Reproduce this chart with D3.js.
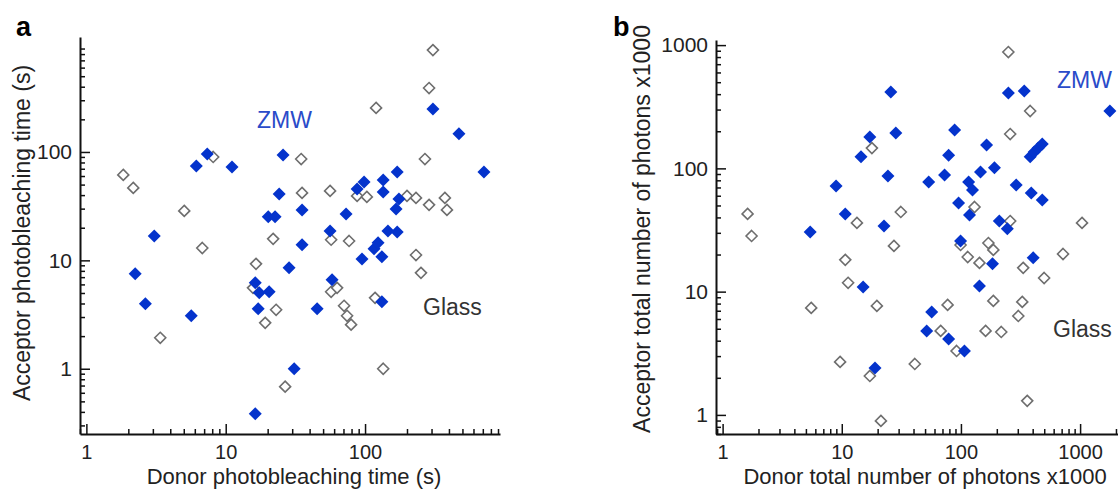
<!DOCTYPE html>
<html>
<head>
<meta charset="utf-8">
<script src="https://cdn.jsdelivr.net/npm/d3@7"></script>
<style>
  body { margin: 0; background: #fff; }
  svg { font-family: "Liberation Sans", Arial, sans-serif; }
</style>
</head>
<body>
<div id="chart"></div>
<script>
// panel a: photobleaching times (s), [donor, acceptor]
const glassA = [
  [1.84, 61.4], [2.17, 46.6], [5.04, 28.6], [6.79, 13.0], [8.13, 89.9], [3.39, 1.93],
  [16.5, 9.29], [15.7, 5.58], [19.2, 2.65], [23.0, 3.50], [26.7, 0.683], [21.9, 15.8],
  [34.8, 86.1], [35.3, 41.9], [56.1, 43.7], [57.1, 15.5], [76.8, 15.1], [57.1, 5.13],
  [63.0, 5.58], [70.7, 3.81], [74.3, 3.08], [79.4, 2.55], [87.7, 39.3], [103, 38.5],
  [118, 4.51], [120, 255], [135, 1.0], [200, 39.3], [232, 37.7], [232, 11.2],
  [252, 7.67], [269, 86.1], [288, 32.5], [288, 389], [307, 871], [374, 37.7], [387, 29.2]
]
const zmwA = [
  [3.07, 16.8], [2.24, 7.51], [2.65, 3.97], [5.66, 3.08], [6.15, 74.3], [7.37, 95.9],
  [11.1, 72.7], [16.3, 0.385], [16.3, 6.21], [17.4, 5.02], [20.5, 5.13], [17.1, 3.57],
  [20.2, 25.2], [22.6, 25.2], [24.2, 41.0], [25.8, 93.8], [28.5, 8.53], [31.0, 1.0],
  [35.3, 29.2], [35.3, 13.9], [45.3, 3.57], [56.1, 18.7], [58.0, 6.61], [73.1, 26.8],
  [87.7, 45.6], [98.4, 52.9], [95.1, 10.3], [116, 12.8], [124, 14.5], [132, 10.8],
  [132, 4.15], [135, 55.2], [135, 42.8], [146, 18.7], [170, 18.3], [167, 29.8],
  [170, 65.4], [175, 36.9], [307, 249], [472, 147], [713, 65.4]
]

// panel b: total photons x1000, [donor, acceptor]
const glassB = [
  [1.62, 42.7], [1.75, 28.3], [13.4, 36.1], [10.7, 18.1], [11.3, 11.8], [5.54, 7.38],
  [9.68, 2.69], [250, 879], [381, 292], [17.9, 146], [259, 190], [130, 48.6],
  [31.3, 44.3], [259, 37.4], [1038, 36.1], [27.4, 23.5], [99.3, 23.9], [170, 24.8],
  [187, 21.8], [114, 19.1], [143, 17.1], [719, 20.2], [333, 15.6], [499, 12.9],
  [19.7, 7.66], [77.3, 7.80], [187, 8.41], [327, 8.25], [303, 6.35], [67.6, 4.80],
  [161, 4.80], [218, 4.71], [91.9, 3.30], [41.0, 2.59], [17.2, 2.07], [360, 1.30], [21.3, 0.894]
]
const zmwB = [
  [14.5, 124], [8.96, 72.0], [10.7, 42.7], [5.43, 30.5], [15.1, 10.9], [25.8, 417],
  [250, 409], [340, 424], [1778, 292], [28.4, 194], [88.5, 205], [17.2, 180],
  [164, 155], [381, 124], [412, 136], [445, 146], [481, 158], [78.8, 128],
  [24.4, 86.7], [53.6, 77.6], [72.9, 88.4], [116, 77.6], [125, 66.8], [146, 93.5],
  [191, 101], [291, 73.3], [389, 63.1], [481, 55.4], [95.5, 52.4], [118, 41.9],
  [22.6, 34.1], [210, 37.4], [245, 32.3], [99.3, 25.8], [184, 16.8], [404, 18.8],
  [143, 11.1], [56.8, 6.84], [51.6, 4.80], [78.8, 4.13], [107, 3.30], [19.0, 2.40]
]

// labelled tick values
const aXTicks = [1, 10, 100]
const aYTicks = [1, 10, 100]
const bXTicks = [1, 10, 100, 1000]
const bYTicks = [1, 10, 100, 1000]

;(function () {
  const width = 1118
  const height = 489
  const blue = "#0433cc"
  const gray = "#6e6e6e"

  const svg = d3.select("#chart")
    .append("svg")
    .attr("width", width)
    .attr("height", height)

  const diamond = r => `M0,${-r}L${r},0L0,${r}L${-r},0Z`

  function drawPanel(p) {
    const x = d3.scaleLog().domain(p.xDomain).range([p.left, p.right])
    const y = d3.scaleLog().domain(p.yDomain).range([p.bottom, p.top])

    const isMajor = v => Math.abs(Math.log10(v) - Math.round(Math.log10(v))) < 1e-9
    const xMinor = x.ticks().filter(v => !isMajor(v))
    const yMinor = y.ticks().filter(v => !isMajor(v))

    // minor ticks
    svg.append("g")
      .attr("class", "axis")
      .attr("transform", `translate(0,${p.bottom})`)
      .call(d3.axisBottom(x).tickValues(xMinor).tickSize(-5).tickSizeOuter(0).tickFormat(""))
      .call(g => g.select(".domain").remove())
    svg.append("g")
      .attr("class", "axis")
      .attr("transform", `translate(${p.left},0)`)
      .call(d3.axisLeft(y).tickValues(yMinor).tickSize(-5).tickSizeOuter(0).tickFormat(""))
      .call(g => g.select(".domain").remove())

    // major ticks + labels
    svg.append("g")
      .attr("class", "axis xmajor")
      .attr("transform", `translate(0,${p.bottom})`)
      .call(d3.axisBottom(x).tickValues(p.xTicks).tickSize(-10).tickSizeOuter(0)
        .tickPadding(11).tickFormat(d3.format("d")))
    svg.append("g")
      .attr("class", "axis ymajor")
      .attr("transform", `translate(${p.left},0)`)
      .call(d3.axisLeft(y).tickValues(p.yTicks).tickSize(-10).tickSizeOuter(0)
        .tickPadding(8).tickFormat(d3.format("d")))

    svg.selectAll(".axis .domain").attr("stroke", "#111").attr("stroke-width", 2)
    svg.selectAll(".axis .tick line").attr("stroke", "#111").attr("stroke-width", 1.5)
    svg.selectAll(".axis text")
      .attr("fill", "#222")
      .style("font-family", "'Liberation Sans', Arial, sans-serif")
    svg.selectAll(".xmajor text").style("font-size", "20px")
    svg.selectAll(".ymajor text").style("font-size", "21px")

    // glass (open) then ZMW (filled)
    svg.append("g")
      .selectAll("path")
      .data(p.glass)
      .join("path")
      .attr("d", diamond(5.5))
      .attr("transform", d => `translate(${x(d[0])},${y(d[1])})`)
      .attr("fill", "#fff")
      .attr("stroke", gray)
      .attr("stroke-width", 1.6)

    svg.append("g")
      .selectAll("path")
      .data(p.zmw)
      .join("path")
      .attr("d", diamond(6.5))
      .attr("transform", d => `translate(${x(d[0])},${y(d[1])})`)
      .attr("fill", blue)

    // axis titles
    svg.append("text")
      .attr("x", p.xTitle[0])
      .attr("y", p.xTitle[1])
      .attr("text-anchor", "middle")
      .style("font-size", "22px")
      .attr("fill", "#222")
      .text(p.xLabel)
    svg.append("text")
      .attr("transform", `translate(${p.yTitle[0]},${p.yTitle[1]}) rotate(-90)`)
      .attr("text-anchor", "middle")
      .style("font-size", "23px")
      .attr("fill", "#222")
      .text(p.yLabel)

    // panel letter
    svg.append("text")
      .attr("x", p.letterPos[0])
      .attr("y", p.letterPos[1])
      .style("font-size", "27px")
      .style("font-weight", "bold")
      .text(p.letter)

    // series labels
    svg.append("text")
      .attr("x", p.zmwPos[0])
      .attr("y", p.zmwPos[1])
      .style("font-size", "23px")
      .attr("fill", "#2a4bc9")
      .text("ZMW")
    svg.append("text")
      .attr("x", p.glassPos[0])
      .attr("y", p.glassPos[1])
      .style("font-size", "23px")
      .attr("fill", "#333")
      .text("Glass")
  }

  drawPanel({
    left: 80, right: 500, top: 37, bottom: 434,
    xDomain: [0.9, 930], yDomain: [0.25, 1150],
    xTicks: aXTicks, yTicks: aYTicks,
    glass: glassA, zmw: zmwA,
    xLabel: "Donor photobleaching time (s)",
    yLabel: "Acceptor photobleaching time (s)",
    xTitle: [294, 484], yTitle: [30, 233],
    letter: "a", letterPos: [16, 36],
    zmwPos: [257, 128], glassPos: [423, 315]
  })

  drawPanel({
    left: 716, right: 1118, top: 40, bottom: 434,
    xDomain: [0.88, 2080], yDomain: [0.7, 1100],
    xTicks: bXTicks, yTicks: bYTicks,
    glass: glassB, zmw: zmwB,
    xLabel: "Donor total number of photons x1000",
    yLabel: "Acceptor total number of photons x1000",
    xTitle: [925, 484], yTitle: [650, 229],
    letter: "b", letterPos: [613, 36],
    zmwPos: [1057, 88], glassPos: [1053, 337]
  })
})()
</script>
</body>
</html>
